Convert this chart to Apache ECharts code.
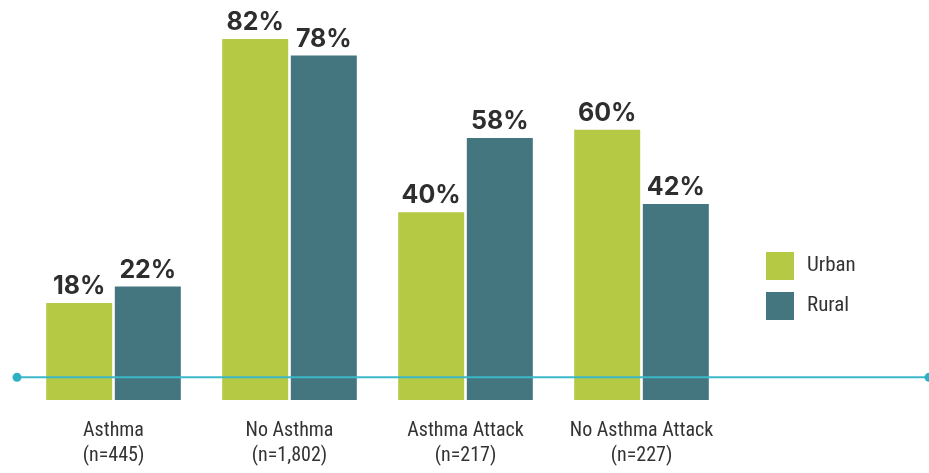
<!DOCTYPE html>
<html>
<head>
<meta charset="utf-8">
<script src="https://cdn.jsdelivr.net/npm/echarts@6/dist/echarts.min.js"></script>
<style>
html,body{margin:0;padding:0;background:#fff;}
#chart{width:929px;height:473px;}
</style>
</head>
<body>
<div id="chart"></div>
<script>
const categories = ['Asthma\n(n=445)', 'No Asthma\n(n=1,802)', 'Asthma Attack\n(n=217)', 'No Asthma Attack\n(n=227)'];
const urban = [18, 82, 40, 60];
const rural = [22, 78, 58, 42];
const seriesNames = ['Urban', 'Rural'];

const AXIS_MIN = -5.5;
const AXIS_MAX = 90;
const URBAN_COLOR = '#b5c944';
const RURAL_COLOR = '#43767f';
const LINE_COLOR = '#3cb8c8';
const NARROW = '"Roboto Condensed", "Liberation Sans Narrow", sans-serif';
const baseFill = categories.map(() => AXIS_MIN);

const chart = echarts.init(document.getElementById('chart'), null, {renderer: 'canvas'});

const valueLabel = {
  show: true,
  position: 'top',
  distance: 4,
  formatter: '{c}%',
  fontFamily: 'Inter',
  fontWeight: 'bold',
  fontSize: 25,
  color: '#2e2e2e'
};

chart.setOption({
  animation: false,
  backgroundColor: '#ffffff',
  grid: {left: 25.5, width: 704, top: 6, bottom: 73, containLabel: false},
  legend: {
    data: seriesNames,
    orient: 'vertical',
    left: 766,
    top: 252,
    padding: 0,
    itemWidth: 28,
    itemHeight: 28,
    itemGap: 12,
    icon: 'rect',
    textStyle: {fontFamily: NARROW, fontSize: 21, color: '#333', padding: [0, 0, 0, 8]}
  },
  xAxis: {
    type: 'category',
    data: categories,
    axisLine: {show: false},
    axisTick: {show: false},
    axisLabel: {
      margin: 18,
      fontFamily: NARROW,
      fontSize: 20,
      lineHeight: 25,
      color: '#333',
      interval: 0
    }
  },
  yAxis: {
    type: 'value',
    min: AXIS_MIN,
    max: AXIS_MAX,
    show: false,
    splitLine: {show: false}
  },
  series: [
    {name: 'UrbanBase', type: 'bar', stack: 'u', data: baseFill, barWidth: 66, barGap: '4%',
      itemStyle: {color: URBAN_COLOR}, silent: true},
    {name: 'Urban', type: 'bar', stack: 'u', data: urban, barWidth: 66, barGap: '4%',
      itemStyle: {color: URBAN_COLOR}, label: valueLabel},
    {name: 'RuralBase', type: 'bar', stack: 'r', data: baseFill, barWidth: 66, barGap: '4%',
      itemStyle: {color: RURAL_COLOR}, silent: true},
    {name: 'Rural', type: 'bar', stack: 'r', data: rural, barWidth: 66, barGap: '4%',
      itemStyle: {color: RURAL_COLOR}, label: valueLabel}
  ]
});

const zeroY = chart.convertToPixel({yAxisIndex: 0}, 0);
chart.setOption({
  graphic: [
    {type: 'line', z: 100, shape: {x1: 17, y1: zeroY, x2: 929, y2: zeroY},
      style: {stroke: LINE_COLOR, lineWidth: 2}},
    {type: 'circle', z: 101, shape: {cx: 17, cy: zeroY, r: 4.5}, style: {fill: '#2fb0c3'}},
    {type: 'circle', z: 101, shape: {cx: 929, cy: zeroY, r: 4.5}, style: {fill: '#2fb0c3'}}
  ]
});
</script>
</body>
</html>
